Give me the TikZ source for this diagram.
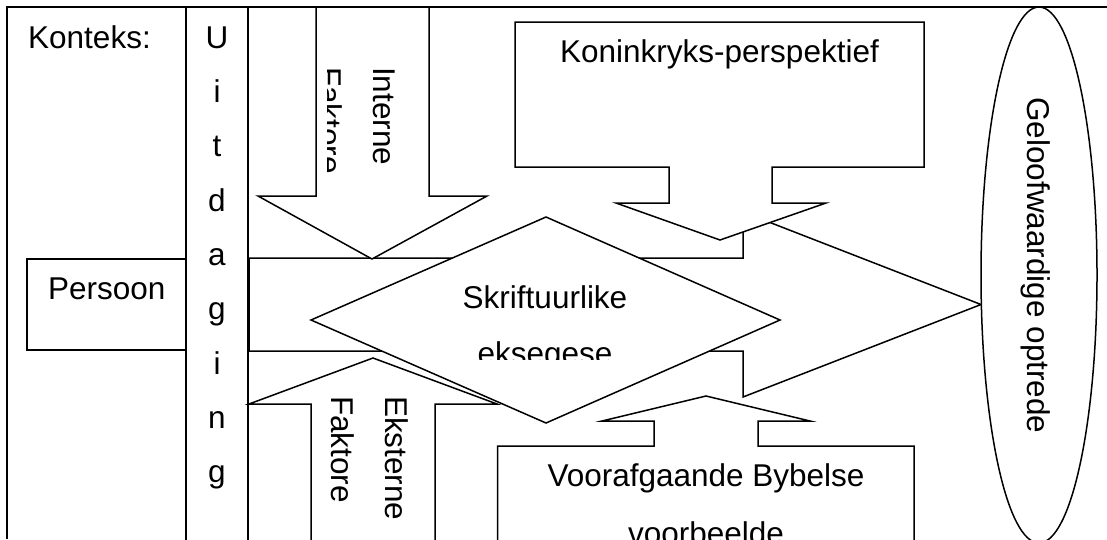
\documentclass[tikz,border=0pt]{standalone}
\usepackage{fontspec}
\setmainfont{Liberation Sans}
\begin{document}
\begin{tikzpicture}[x=1pt,y=-1pt,
  blk/.style={draw=black,fill=white,line width=1.5pt,line join=miter},
  ln/.style={draw=black,line width=1.5pt},
  txt/.style={inner sep=0pt,font=\fontsize{31.5}{54}\selectfont},
  vtxt/.style={txt,rotate=-90,anchor=base west}]
\useasboundingbox (0,0) rectangle (1107,539);
\clip (0,0) rectangle (1107,539);
% outer frame
\draw[ln] (7,539) -- (7,7) -- (1107,7);
% right-pointing arrow towards the ellipse
\path[blk] (249,258) -- (743,258) -- (743,212) -- (981,304.5) -- (743,397) -- (743,351) -- (249,351) -- cycle;
% Interne faktore arrow (down)
\path[blk] (316,7) -- (429,7) -- (429,196) -- (487,196) -- (372,259) -- (258,196) -- (316,196) -- cycle;
\node[vtxt] (interne) at (373,67) {Interne};
\begin{scope}
\clip (327,8) rectangle (429,196);
\node[vtxt] (intfak) at (319,67) {Faktore};
\end{scope}
% Koninkryks-perspektief callout
\path[blk] (515,22) -- (924,22) -- (924,167) -- (772,167) -- (772,203) -- (826,203) -- (720,240) -- (616,203) -- (669,203) -- (669,167) -- (515,167) -- cycle;
\node[txt,anchor=base] (kon) at (719.5,62) {Koninkryks-perspektief};
% diamond
\path[blk] (311,320) -- (546,217) -- (780,320) -- (546,423) -- cycle;
\node[txt,anchor=base] (skrif) at (545,308) {Skriftuurlike};
\begin{scope}
\clip (311,330) rectangle (780,359);
\node[txt,anchor=base] (ekse) at (545,364) {eksegese};
\end{scope}
% Eksterne faktore arrow (up)
\path[blk] (311,560) -- (311,404) -- (249,404) -- (373,358) -- (497,404) -- (435,404) -- (435,560) -- cycle;
\node[vtxt] (eksterne) at (385,396) {Eksterne};
\node[vtxt] (ekfak) at (331,396) {Faktore};
% Voorafgaande Bybelse voorbeelde callout
\path[blk] (497.5,560) -- (497.5,446) -- (654,446) -- (654,421) -- (602,421) -- (706,396) -- (810,421) -- (758,421) -- (758,446) -- (914,446) -- (914,560) -- cycle;
\node[txt,anchor=base] (voor) at (706,486) {Voorafgaande Bybelse};
\node[txt,anchor=base] (voorb) at (706,544) {voorbeelde};
% Persoon box
\path[blk] (27,259) rectangle (186,350);
\node[txt,anchor=base west] (persoon) at (48,299.3) {Persoon};
% Uitdaging column
\draw[ln] (186,7) -- (186,545);
\draw[ln] (248,7) -- (248,545);
\foreach \ch [count=\k from 0] in {U,i,t,d,a,g,i,n,g}{
  \node[txt,anchor=base] (u\k) at (217,48.3+54.3*\k) {\ch};
}
% Konteks
\node[txt,anchor=base west] (konteks) at (28,48.3) {Konteks:};
% ellipse
\path[blk] (1039,275) ellipse [x radius=58, y radius=268];
\node[vtxt] (geloof) at (1027,97) {Geloofwaardige optrede};
\end{tikzpicture}
\end{document}
